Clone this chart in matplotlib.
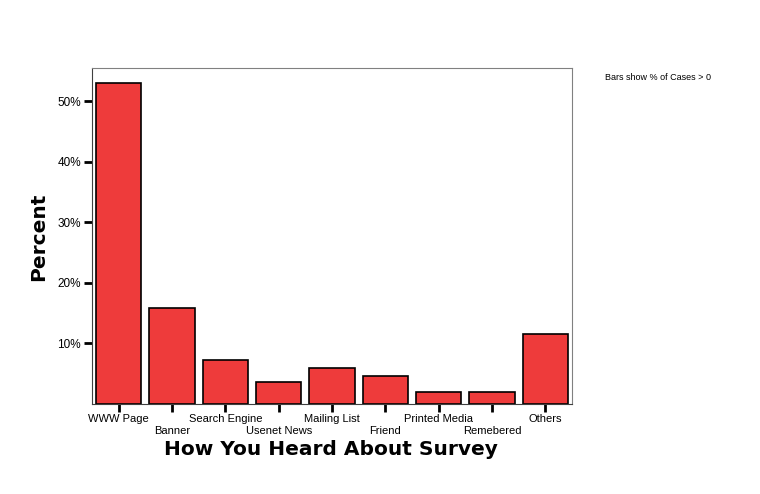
import matplotlib
matplotlib.use('Agg')
import matplotlib.pyplot as plt

# Дані
sources = ['WWW Page', 'Banner', 'Search Engine', 'Usenet News', 'Mailing List',
           'Friend', 'Printed Media', 'Remebered', 'Others']
percent = [53.1, 15.9, 7.2, 3.6, 5.9, 4.6, 1.9, 1.9, 11.6]
y_ticks = [10, 20, 30, 40, 50]

fig = plt.figure(figsize=(7.6, 4.94), dpi=100)
ax = fig.add_axes([92 / 760, 90 / 494, 480 / 760, 336 / 494])

x = list(range(len(sources)))
ax.bar(x, percent, width=0.85, color='#ee3b3b', edgecolor='black', linewidth=1.2)

ax.set_xlim(-0.5, len(sources) - 0.5)
ax.set_ylim(0, 55.5)

ax.set_xticks(x)
ax.set_xticklabels(sources, fontsize=8, family='Liberation Sans')
ax.set_yticks(y_ticks)
ax.set_yticklabels([f'{v}%' for v in y_ticks], fontsize=8.5, family='Liberation Sans')
ax.tick_params(axis='both', length=6, width=2, color='black', pad=2)
ax.tick_params(axis='x', pad=1)

# Підписи по осі X в шаховому порядку
for i, tick in enumerate(ax.xaxis.get_major_ticks()):
    if i % 2 == 1:
        tick.set_pad(10)

for side in ['top', 'right']:
    ax.spines[side].set_color('#808080')
for side in ['left', 'bottom']:
    ax.spines[side].set_color('#404040')

ax.set_ylabel('Percent', fontsize=14.5, fontweight='black')
ax.yaxis.set_label_coords(-0.092, 0.497)
ax.set_xlabel('How You Heard About Survey', fontsize=14.5, fontweight='black')
ax.xaxis.set_label_coords(0.498, -0.108)

fig.text(605 / 760, 1 - 77 / 494, 'Bars show % of Cases > 0', fontsize=6.5,
         family='Liberation Sans', va='center')

fig.savefig('out.png', dpi=100)
